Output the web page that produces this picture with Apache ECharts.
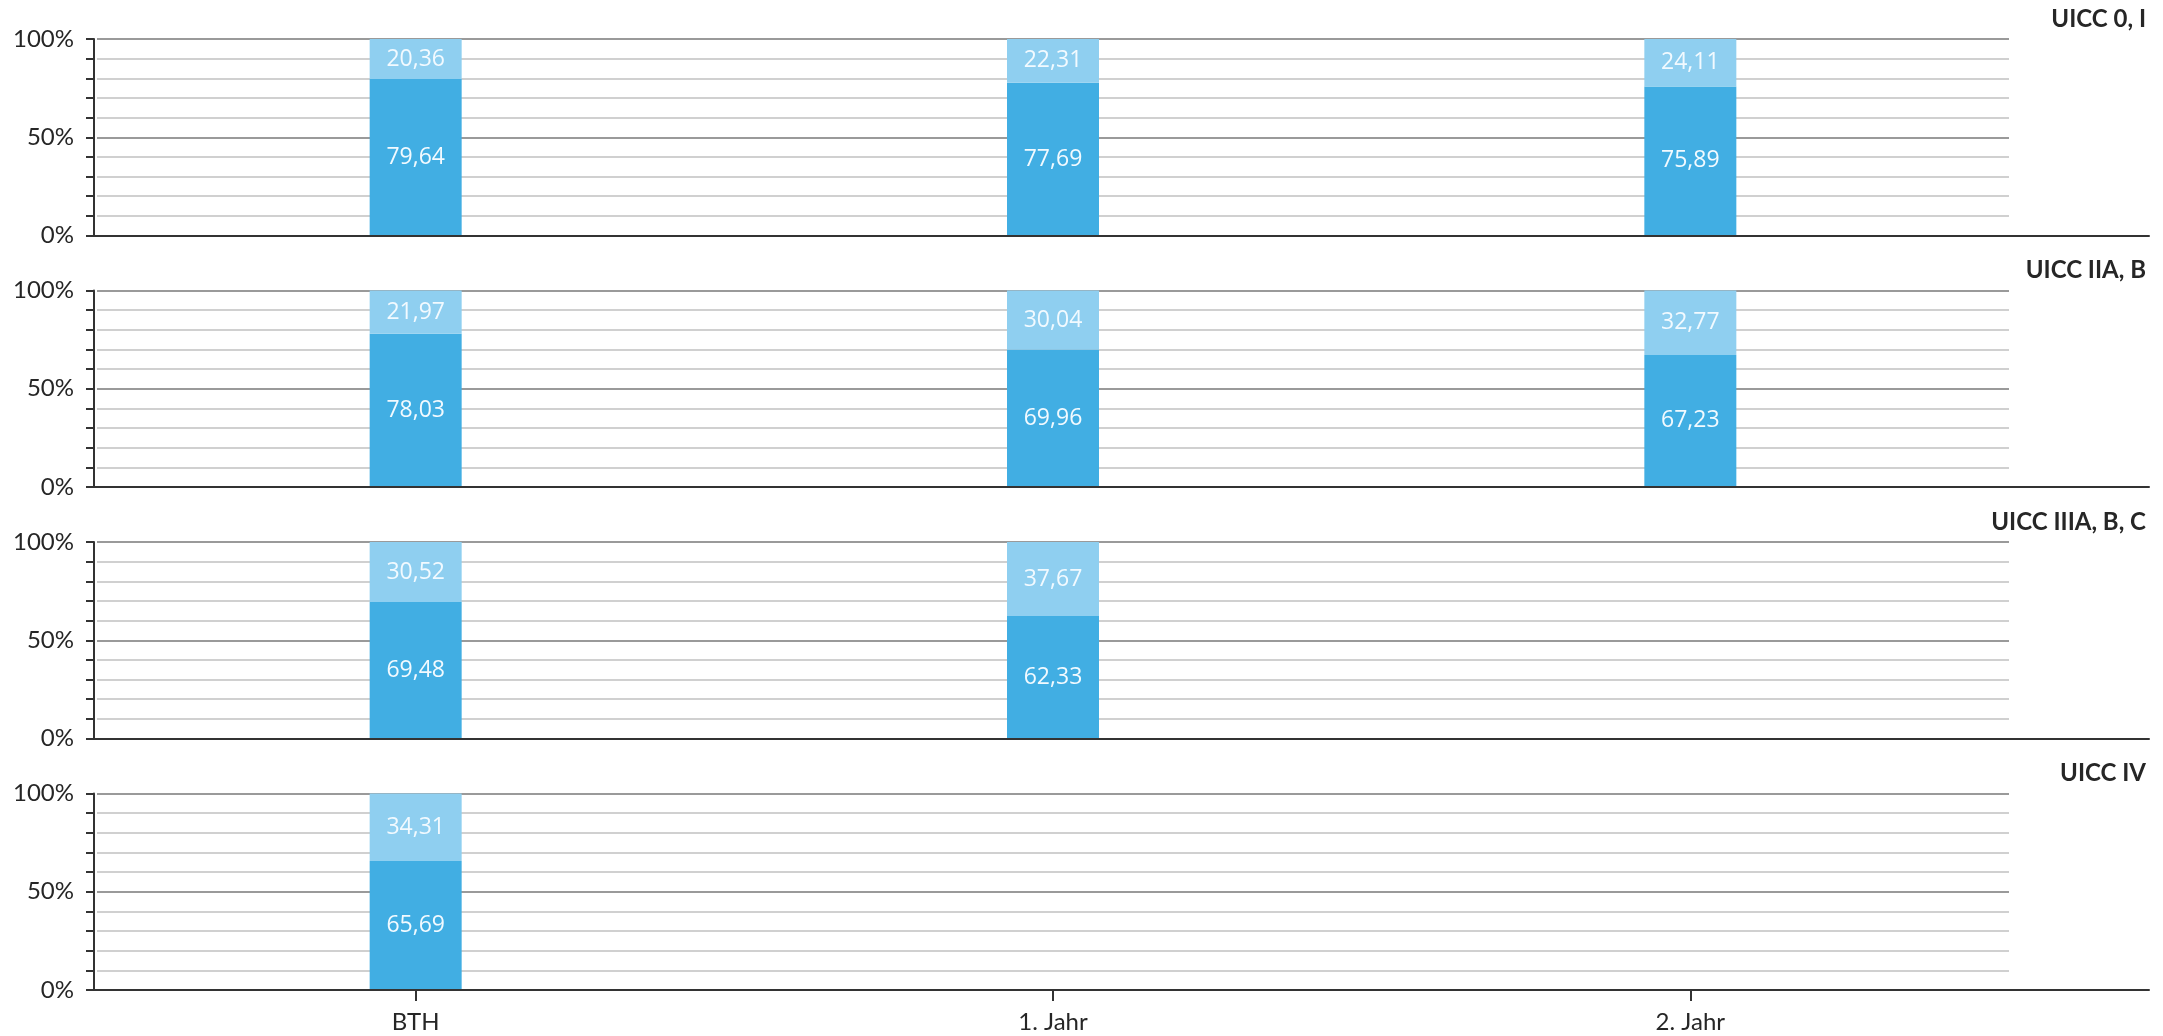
<!DOCTYPE html>
<html>
<head>
<meta charset="utf-8">
<script src="https://cdn.jsdelivr.net/npm/echarts@6/dist/echarts.min.js"></script>
<style>
  html, body { margin: 0; padding: 0; background: #ffffff; }
  #chart { width: 2163px; height: 1036px; }
</style>
</head>
<body>
<div id="chart"></div>
<script>
// Time points on the x axis
const categories = ['BTH', '1. Jahr', '2. Jahr'];
// One panel per UICC stage
const stages = ['UICC 0, I', 'UICC IIA, B', 'UICC IIIA, B, C', 'UICC IV'];
// Percent shares per stage (lower dark segment / upper light segment)
const darkShare = [
  [79.64, 77.69, 75.89],
  [78.03, 69.96, 67.23],
  [69.48, 62.33, null],
  [65.69, null, null]
];
const lightShare = [
  [20.36, 22.31, 24.11],
  [21.97, 30.04, 32.77],
  [30.52, 37.67, null],
  [34.31, null, null]
];
// y axis tick labels that get text
const yTickLabels = { 0: '0%', 50: '50%', 100: '100%' };

const DARK = '#41aee3';
const LIGHT = '#8fcff0';
const TEXT = '#262626';
const AXIS = '#333333';

const panelTops = [39, 290.5, 542, 793.5];
const panelHeight = 196.5;
const plotLeft = 97;
const axisShift = 3;
const plotRight = 154;
const baseLeft = 94;
const baseRight = 14;

const grids = [], xAxes = [], yAxes = [], series = [], titles = [];
const fmt = v => v.toFixed(2).replace('.', ',');

stages.forEach((name, k) => {
  const last = k === stages.length - 1;
  // main plotting grid
  grids.push({ left: plotLeft, right: plotRight, top: panelTops[k], height: panelHeight });
  // wider grid that only carries the extended base line
  grids.push({ left: baseLeft, right: baseRight, top: panelTops[k], height: panelHeight });
  const g = grids.length - 2;

  xAxes.push({
    type: 'category', gridIndex: g, data: categories,
    axisLine: { show: false },
    axisTick: { show: last, alignWithLabel: true, length: 11, lineStyle: { color: AXIS, width: 2 } },
    axisLabel: { show: last, margin: 20, fontSize: 24, fontFamily: 'Lato', color: TEXT },
    splitLine: { show: false }
  });
  xAxes.push({
    type: 'value', gridIndex: g + 1, min: 0, max: 1,
    axisLine: { show: true, onZero: false, lineStyle: { color: AXIS, width: 2 } },
    axisTick: { show: false }, axisLabel: { show: false }, splitLine: { show: false },
    z: 5
  });

  yAxes.push({
    type: 'value', gridIndex: g, min: 0, max: 100, interval: 10, offset: axisShift,
    axisLine: { show: true, lineStyle: { color: AXIS, width: 2 } },
    axisTick: { show: true, length: 8, lineStyle: { color: AXIS, width: 2 } },
    axisLabel: {
      margin: 20, fontSize: 24, fontFamily: 'Lato', color: TEXT,
      formatter: v => yTickLabels[v] || ''
    },
    splitLine: {
      show: true,
      lineStyle: { width: 2, color: ['#9a9a9a', '#d0d0d0', '#d0d0d0', '#d0d0d0', '#d0d0d0'] }
    }
  });
  yAxes.push({ type: 'value', gridIndex: g + 1, min: 0, max: 1, show: false });

  const label = {
    show: true, position: 'inside', color: '#f2faff',
    fontSize: 23, fontFamily: 'Open Sans',
    formatter: p => (p.value == null ? '' : fmt(p.value))
  };
  series.push({
    type: 'bar', name: 'dark', stack: 's' + k,
    xAxisIndex: xAxes.length - 2, yAxisIndex: yAxes.length - 2,
    data: darkShare[k], barWidth: 92,
    itemStyle: { color: DARK }, label: label
  });
  series.push({
    type: 'bar', name: 'light', stack: 's' + k,
    xAxisIndex: xAxes.length - 2, yAxisIndex: yAxes.length - 2,
    data: lightShare[k], barWidth: 92,
    itemStyle: { color: LIGHT }, label: label
  });

  titles.push({
    text: name, right: 17, top: panelTops[k] - 32, padding: 0,
    textStyle: { fontSize: 24, fontWeight: 'bold', fontFamily: 'Lato', color: TEXT }
  });
});

const chart = echarts.init(document.getElementById('chart'), null, { renderer: 'canvas' });
chart.setOption({
  backgroundColor: '#ffffff',
  animation: false,
  title: titles,
  grid: grids,
  xAxis: xAxes,
  yAxis: yAxes,
  series: series
});
</script>
</body>
</html>
